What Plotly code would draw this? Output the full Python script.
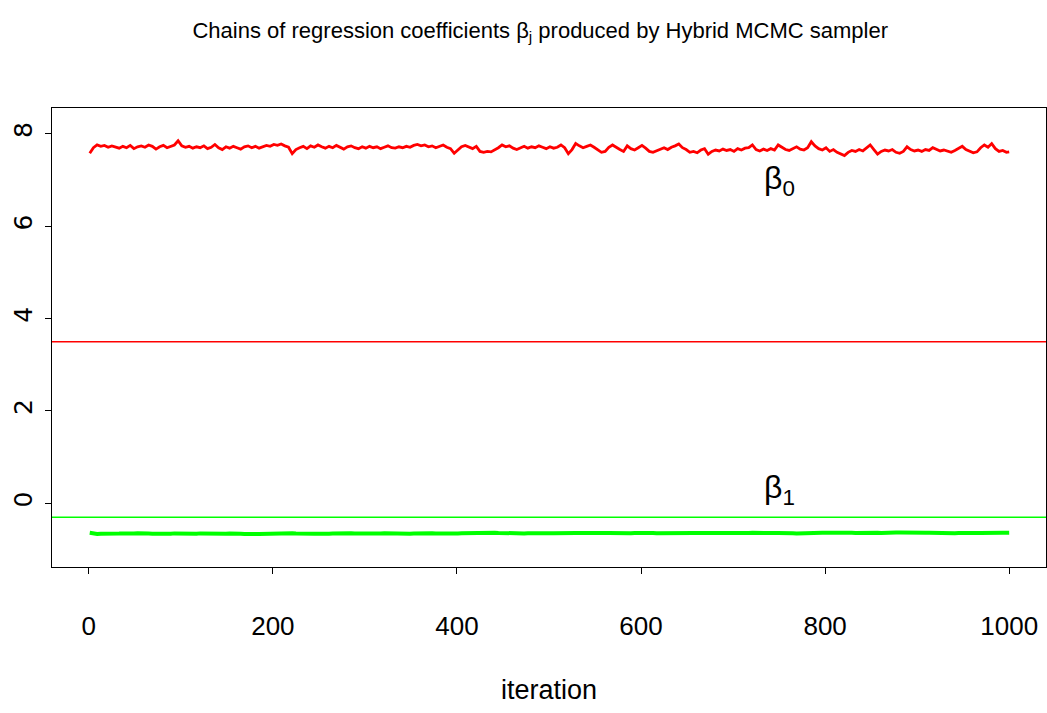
import plotly.graph_objects as go

# ---------------- data ----------------
iterations = list(range(1, 998, 4)) + [1000]

beta0_chain = [
    7.58, 7.70, 7.76, 7.73, 7.75, 7.71, 7.74, 7.72, 7.69, 7.73,
    7.70, 7.75, 7.68, 7.72, 7.74, 7.71, 7.76, 7.73, 7.67, 7.72,
    7.75, 7.70, 7.73, 7.76, 7.85, 7.74, 7.71, 7.73, 7.69, 7.72,
    7.70, 7.74, 7.68, 7.71, 7.77, 7.70, 7.66, 7.72, 7.69, 7.73,
    7.70, 7.67, 7.72, 7.74, 7.70, 7.73, 7.69, 7.72, 7.75, 7.73,
    7.77, 7.75, 7.78, 7.74, 7.71, 7.57, 7.66, 7.70, 7.73, 7.68,
    7.74, 7.71, 7.76, 7.72, 7.69, 7.73, 7.70, 7.75, 7.71, 7.67,
    7.72, 7.74, 7.70, 7.68, 7.72, 7.69, 7.73, 7.70, 7.72, 7.68,
    7.71, 7.74, 7.70, 7.69, 7.72, 7.70, 7.73, 7.71, 7.75, 7.77,
    7.74, 7.76, 7.72, 7.74, 7.70, 7.73, 7.76, 7.71, 7.68, 7.58,
    7.66, 7.72, 7.75, 7.71, 7.68, 7.73, 7.62, 7.60, 7.62, 7.61,
    7.65, 7.70, 7.76, 7.72, 7.74, 7.69, 7.66, 7.70, 7.73, 7.69,
    7.72, 7.70, 7.74, 7.71, 7.68, 7.72, 7.69, 7.71, 7.76, 7.70,
    7.57, 7.66, 7.79, 7.74, 7.70, 7.73, 7.76, 7.71, 7.66, 7.60,
    7.62, 7.71, 7.76, 7.70, 7.66, 7.62, 7.74, 7.68, 7.65, 7.70,
    7.75, 7.69, 7.62, 7.60, 7.63, 7.67, 7.70, 7.66, 7.71, 7.74,
    7.78, 7.70, 7.66, 7.60, 7.62, 7.59, 7.65, 7.68, 7.56, 7.62,
    7.65, 7.63, 7.67, 7.64, 7.66, 7.62, 7.68, 7.65, 7.69, 7.70,
    7.76, 7.66, 7.63, 7.67, 7.64, 7.68, 7.65, 7.76, 7.70, 7.66,
    7.64, 7.68, 7.72, 7.67, 7.65, 7.70, 7.83, 7.74, 7.68, 7.65,
    7.70, 7.62, 7.66, 7.60, 7.56, 7.53, 7.60, 7.64, 7.62, 7.66,
    7.63, 7.70, 7.76, 7.66, 7.56, 7.62, 7.65, 7.63, 7.66, 7.60,
    7.58, 7.62, 7.72, 7.66, 7.63, 7.65, 7.62, 7.66, 7.64, 7.70,
    7.66, 7.63, 7.65, 7.62, 7.60, 7.64, 7.68, 7.73, 7.66, 7.62,
    7.59, 7.61, 7.70, 7.76, 7.71, 7.79, 7.68, 7.62, 7.64, 7.60,
    7.61,
]

beta1_chain = [
    -0.640,
    -0.660, -0.665, -0.658, -0.662, -0.655, -0.660, -0.664, -0.657, -0.653, -0.660,
    -0.662, -0.656, -0.651, -0.659, -0.663, -0.655, -0.658, -0.661, -0.654, -0.657,
    -0.662, -0.659, -0.652, -0.656,
    -0.660, -0.654, -0.657, -0.663, -0.658, -0.652, -0.656, -0.661, -0.664, -0.657,
    -0.653, -0.659, -0.662, -0.655, -0.650, -0.656, -0.660, -0.666, -0.661, -0.657,
    -0.663, -0.668, -0.664, -0.659, -0.662,
    -0.658, -0.655, -0.650, -0.646, -0.636, -0.648, -0.654, -0.660, -0.657, -0.653,
    -0.656, -0.662, -0.659, -0.652, -0.655, -0.658, -0.654, -0.650, -0.656, -0.659,
    -0.655, -0.651, -0.654, -0.657, -0.653,
    -0.656, -0.652, -0.655, -0.658, -0.654, -0.650, -0.653, -0.657, -0.660, -0.655,
    -0.651, -0.654, -0.658, -0.653, -0.649, -0.652, -0.656, -0.653, -0.650, -0.654,
    -0.657, -0.652, -0.648, -0.651, -0.655,
    -0.652, -0.648, -0.645, -0.650, -0.647, -0.640, -0.636, -0.638, -0.641, -0.639,
    -0.637, -0.642, -0.646, -0.650, -0.653, -0.648, -0.645, -0.649, -0.652, -0.647,
    -0.644, -0.648, -0.651, -0.646, -0.643,
    -0.647, -0.650, -0.645, -0.642, -0.646, -0.649, -0.644, -0.641, -0.645, -0.648,
    -0.643, -0.640, -0.644, -0.647, -0.651, -0.646, -0.643, -0.647, -0.650, -0.645,
    -0.642, -0.646, -0.649, -0.644, -0.641,
    -0.645, -0.648, -0.643, -0.646, -0.650, -0.647, -0.644, -0.648, -0.652, -0.656,
    -0.651, -0.647, -0.643, -0.638, -0.641, -0.645, -0.648, -0.644, -0.641, -0.645,
    -0.649, -0.646, -0.642, -0.645, -0.648,
    -0.644, -0.641, -0.645, -0.648, -0.643, -0.640, -0.644, -0.647, -0.642, -0.639,
    -0.643, -0.646, -0.641, -0.638, -0.642, -0.646, -0.650, -0.654, -0.649, -0.645,
    -0.641, -0.644, -0.647, -0.642, -0.639,
    -0.636, -0.634, -0.638, -0.642, -0.645, -0.641, -0.637, -0.640, -0.644, -0.640,
    -0.636, -0.639, -0.643, -0.640, -0.637, -0.641, -0.644, -0.640, -0.636, -0.633,
    -0.631, -0.635, -0.639, -0.642, -0.638,
    -0.641, -0.644, -0.640, -0.637, -0.641, -0.645, -0.642, -0.639, -0.643, -0.647,
    -0.650, -0.646, -0.642, -0.645, -0.641, -0.638, -0.642, -0.645, -0.641, -0.637,
    -0.640, -0.644, -0.641, -0.638, -0.640, -0.639,
]

reference_lines = [3.5, -0.3]          # horizontal reference values
reference_colors = ["#ff0000", "#00ff00"]
label_texts = ["β<sub>0</sub>", "β<sub>1</sub>"]
label_x = [750, 750]
label_y = [7.0, 0.3]

x_ticks = [0, 200, 400, 600, 800, 1000]
y_ticks = [0, 2, 4, 6, 8]

NARROW = "Liberation Sans Narrow, Arial Narrow, Liberation Sans, Arial, sans-serif"

fig = go.Figure()
fig.add_trace(go.Scatter(x=iterations[:len(beta0_chain)], y=beta0_chain, mode="lines",
                         line=dict(color="#ff0000", width=2.8), showlegend=False))
fig.add_trace(go.Scatter(x=iterations[:len(beta1_chain)], y=beta1_chain, mode="lines",
                         line=dict(color="#00ff00", width=4), showlegend=False))

for v, c in zip(reference_lines, reference_colors):
    fig.add_hline(y=v, line=dict(color=c, width=1.5))

for t, x, y in zip(label_texts, label_x, label_y):
    fig.add_annotation(x=x, y=y, text=t, showarrow=False,
                       font=dict(family=NARROW, size=32, color="black"))

fig.update_layout(
    width=1047, height=713,
    margin=dict(l=52, r=1, t=108, b=146),
    paper_bgcolor="white", plot_bgcolor="white",
    title=dict(text="Chains of regression coefficients β<sub>j</sub> produced by Hybrid MCMC sampler",
               x=0.516, xanchor="center", y=0.958, yanchor="middle",
               font=dict(family=NARROW, size=22, color="black")),
    xaxis=dict(range=[-40, 1040], tickvals=x_ticks, ticks="outside", ticklen=6,
               tickcolor="black", showline=True, mirror=True, linecolor="black",
               linewidth=1, showgrid=False, zeroline=False,
               tickfont=dict(family=NARROW, size=26, color="black"),
               ticklabelstandoff=30,
               title=dict(text="iteration", standoff=39,
                          font=dict(family=NARROW, size=27, color="black"))),
    yaxis=dict(range=[-1.38, 8.56], tickvals=y_ticks, ticks="outside", ticklen=6,
               tickcolor="black", showline=True, mirror=True, linecolor="black",
               linewidth=1, showgrid=False, zeroline=False, tickangle=-90,
               ticklabelstandoff=3,
               tickfont=dict(family="DejaVu Sans", size=25, color="black")),
)

fig.write_html("out.html")
